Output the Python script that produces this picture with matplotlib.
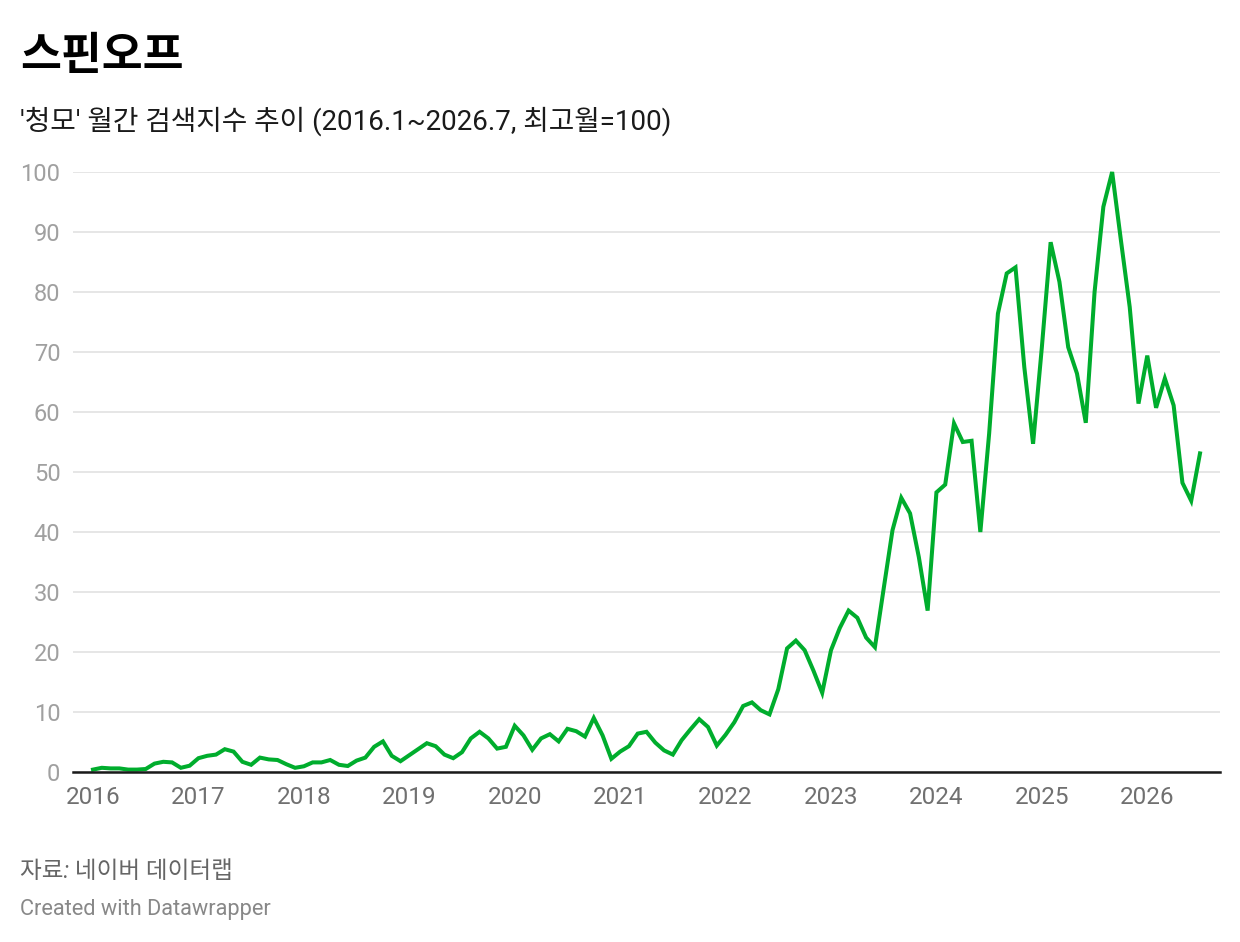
import matplotlib
matplotlib.use("Agg")
import matplotlib.pyplot as plt
import numpy as np

plt.rcParams['font.family'] = ['Roboto', 'Noto Sans CJK KR', 'DejaVu Sans']

title = "스핀오프"
subtitle = "'청모' 월간 검색지수 추이 (2016.1~2026.7, 최고월=100)"
source = "자료: 네이버 데이터랩"
credit = "Created with Datawrapper"

start_year = 2016
values = [
    0.4, 0.7, 0.6, 0.6, 0.4, 0.4, 0.5, 1.4, 1.7, 1.6, 0.7, 1.05,
    2.3, 2.7, 2.9, 3.8, 3.4, 1.7, 1.2, 2.4, 2.1, 2.0, 1.3, 0.7,
    0.95, 1.6, 1.6, 2.0, 1.2, 1.0, 1.9, 2.4, 4.2, 5.1, 2.7, 1.8,
    2.8, 3.8, 4.8, 4.3, 2.9, 2.3, 3.3, 5.6, 6.7, 5.6, 3.9, 4.2,
    7.7, 6.1, 3.7, 5.6, 6.3, 5.1, 7.2, 6.8, 5.9, 9.0, 6.1, 2.2,
    3.4, 4.3, 6.4, 6.7, 4.9, 3.6, 2.9, 5.3, 7.1, 8.8, 7.5, 4.4,
    6.2, 8.3, 11.0, 11.6, 10.3, 9.6, 13.8, 20.6, 21.9, 20.3, 16.9, 13.2,
    20.3, 24.0, 26.9, 25.7, 22.4, 20.8, 30.6, 40.3, 45.7, 43.1, 35.8, 26.9,
    46.6, 47.9, 58.1, 55.0, 55.2, 40.0, 56.4, 76.4, 83.1, 84.1, 67.5, 54.7,
    70.8, 88.3, 81.7, 70.8, 66.4, 58.2, 80.0, 94.2, 100.0, 88.6, 77.5, 61.4,
    69.4, 60.7, 65.6, 61.1, 48.2, 45.2, 53.1,
]
year_ticks = list(range(2016, 2027))
y_ticks = [0, 10, 20, 30, 40, 50, 60, 70, 80, 90, 100]

x = start_year + np.arange(len(values)) / 12.0

W, H = 1240, 942
fig = plt.figure(figsize=(W / 100, H / 100), dpi=100)
fig.patch.set_facecolor('white')

def fx(px):
    return px / W

def fy(py):
    return 1 - py / H

ax = fig.add_axes([fx(73), fy(772), fx(1220) - fx(73), fy(172) - fy(772)])
ax.plot(x, values, color='#00ad2d', lw=2.9, solid_joinstyle='miter', clip_on=False, zorder=3)

pad = 20 / 105.4
ax.set_xlim(start_year - pad, x[-1] + pad)
ax.set_ylim(0, 100)

ax.set_yticks(y_ticks)
ax.set_xticks(year_ticks)
ax.set_xticklabels([str(y) for y in year_ticks])
ax.grid(axis='y', color='#e2e2e2', lw=1.2)
ax.axhline(0, color='#1a1a1a', lw=1.8, zorder=4, clip_on=False)
for s in ax.spines.values():
    s.set_visible(False)
ax.tick_params(axis='both', length=0)
ax.tick_params(axis='y', labelsize=17, labelcolor='#a0a0a0', pad=9)
ax.tick_params(axis='x', labelsize=17.5, labelcolor='#707070', pad=10)
for lbl in ax.get_yticklabels():
    lbl.set_horizontalalignment('right')
ax.set_facecolor('white')

fig.text(fx(20), fy(57), title, fontsize=32, fontweight='bold', color='#000000', va='center', ha='left')
fig.text(fx(20), fy(121), subtitle, fontsize=20, color='#1a1a1a', va='center', ha='left')
fig.text(fx(20), fy(872), source, fontsize=17, color='#666666', va='center', ha='left', style='italic')
fig.text(fx(20), fy(910), credit, fontsize=15.7, color='#888888', va='center', ha='left')

fig.savefig('out.png', dpi=100, facecolor='white')
